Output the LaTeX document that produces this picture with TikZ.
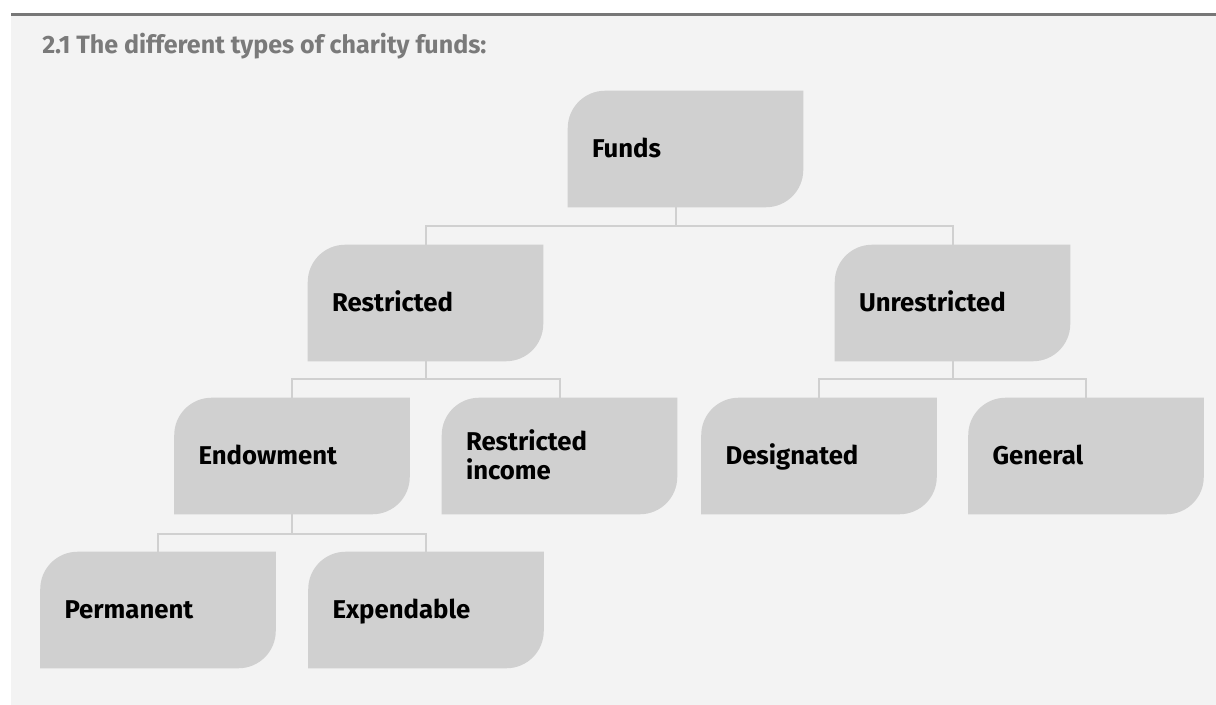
\documentclass[tikz,border=0pt]{standalone}
\usepackage{fontspec}
\setmainfont{Fira Sans}
\usepackage{tikz}
\usetikzlibrary{positioning,backgrounds}
\usepackage{xcolor}

\definecolor{panelgrey}{HTML}{F3F3F3}
\definecolor{boxgrey}{HTML}{D0D0D0}
\definecolor{rulegrey}{HTML}{777777}
\definecolor{titlegrey}{HTML}{7A7A7A}

% leaf-shaped box behind a fund node
\newcommand{\fundshape}[1]{%
  \fill[boxgrey] (#1.south west) -- ([yshift=-28pt]#1.north west)
    arc[start angle=180, end angle=90, radius=28pt] -- (#1.north east)
    -- ([yshift=28pt]#1.south east)
    arc[start angle=0, end angle=-90, radius=28pt] -- cycle;}

\begin{document}
\begin{tikzpicture}[x=0.75pt, y=-0.75pt,
    fund/.style={rectangle, inner xsep=18pt, inner ysep=0pt, text width=140.25pt, minimum height=87pt, align=left, font=\fontsize{19.3}{21.75}\selectfont\bfseries, text height=13.3pt, text depth=0pt},
    link/.style={draw=boxgrey, line width=1.5pt},
    heading/.style={font=\fontsize{18.8}{22}\selectfont\bfseries, text=titlegrey, inner sep=0pt}
]
    \useasboundingbox (0,0) rectangle (1216,705);

    % Panel
    \begin{scope}[on background layer]
        \fill[panelgrey] (11,14.5) rectangle (1216,705);
        \draw[rulegrey, line width=2.25pt] (11,14.5) -- (1216,14.5);
    \end{scope}
    \node[heading, anchor=base west] (title) at (42,54) {2.1 The different types of charity funds:};

    % Funds
    \node[fund] (funds) at (685.5,149) {Funds};

    % Restricted / Unrestricted
    \node[fund] (restr) at (425.5,303) {Restricted};
    \node[fund] (unrestr) at (952.5,303) {Unrestricted};

    % Third row
    \node[fund] (endow) at (292,456) {Endowment};
    \node[fund, text depth=21.75pt] (rincome) at (559.5,456) {Restricted\\income};
    \node[fund] (desig) at (819,456) {Designated};
    \node[fund] (general) at (1086,456) {General};

    % Endowment split
    \node[fund] (perm) at (158,610) {Permanent};
    \node[fund] (expend) at (426,610) {Expendable};

    % Junctions
    \coordinate (fundsjoin) at (676,226);
    \coordinate (restrjoin) at (425.5,379);
    \coordinate (unrestrjoin) at (952.5,379);
    \coordinate (endowjoin) at (292,534);

    \begin{scope}[on background layer]
        \foreach \f in {funds, restr, unrestr, endow, rincome, desig, general, perm, expend}
            \fundshape{\f};

        % Connectors
        \draw[link] (fundsjoin |- funds.south) -- (fundsjoin);
        \draw[link] (restr.north) |- (fundsjoin) -| (unrestr.north);
        \draw[link] (restr.south) -- (restrjoin);
        \draw[link] (endow.north) |- (restrjoin) -| (rincome.north);
        \draw[link] (unrestr.south) -- (unrestrjoin);
        \draw[link] (desig.north) |- (unrestrjoin) -| (general.north);
        \draw[link] (endow.south) -- (endowjoin);
        \draw[link] (perm.north) |- (endowjoin) -| (expend.north);
    \end{scope}
\end{tikzpicture}
\end{document}
